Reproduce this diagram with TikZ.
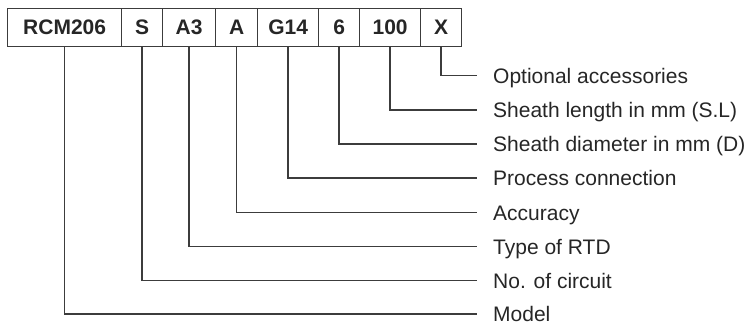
\documentclass[tikz,border=0pt]{standalone}
\usepackage{fontspec}
\setmainfont{Liberation Sans}
\definecolor{ink}{HTML}{262626}
\definecolor{linec}{HTML}{3C3C3C}
\begin{document}
\begin{tikzpicture}[x=1pt,y=-1pt,
  cell/.style={draw=linec, line width=1.3pt, minimum height=38pt, inner sep=0pt, anchor=north west, text=ink, font=\fontsize{21}{25}\selectfont\bfseries},
  lead/.style={draw=linec, line width=1.6pt},
  lab/.style={anchor=base west, inner sep=0pt, text=ink, font=\fontsize{21}{25}\selectfont}]
\useasboundingbox (0,0) rectangle (748,322);
% cells
\node[cell, minimum width=114pt] (c1) at (7,8) {RCM206};
\node[cell, minimum width=41pt] (c2) at (121,8) {S};
\node[cell, minimum width=53pt] (c3) at (162,8) {A3};
\node[cell, minimum width=42pt] (c4) at (215,8) {A};
\node[cell, minimum width=61pt] (c5) at (257,8) {G14};
\node[cell, minimum width=41pt] (c6) at (318,8) {6};
\node[cell, minimum width=61pt] (c7) at (359,8) {100};
\node[cell, minimum width=41pt] (c8) at (420,8) {X};
% labels
\node[lab] (l8) at (493,83) {Optional accessories};
\node[lab] (l7) at (493,117.5) {Sheath length in mm (S.L)};
\node[lab] (l6) at (493,151.5) {Sheath diameter in mm (D)};
\node[lab] (l5) at (493,185.5) {Process connection};
\node[lab] (l4) at (493,220) {Accuracy};
\node[lab] (l3) at (493,254) {Type of RTD};
\node[lab] (l2) at (493,288) {No. of circuit};
\node[lab] (l1) at (493,321.5) {Model};
% line end coordinates
\coordinate (e8) at (477,75.5);
\coordinate (e7) at (477,110);
\coordinate (e6) at (477,144);
\coordinate (e5) at (477,178);
\coordinate (e4) at (477,212.5);
\coordinate (e3) at (477,246.5);
\coordinate (e2) at (477,280.5);
\coordinate (e1) at (477,314);
% leaders
\foreach \i in {1,...,8}{
  \draw[lead] (c\i.south) |- (e\i);
}
\end{tikzpicture}
\end{document}
